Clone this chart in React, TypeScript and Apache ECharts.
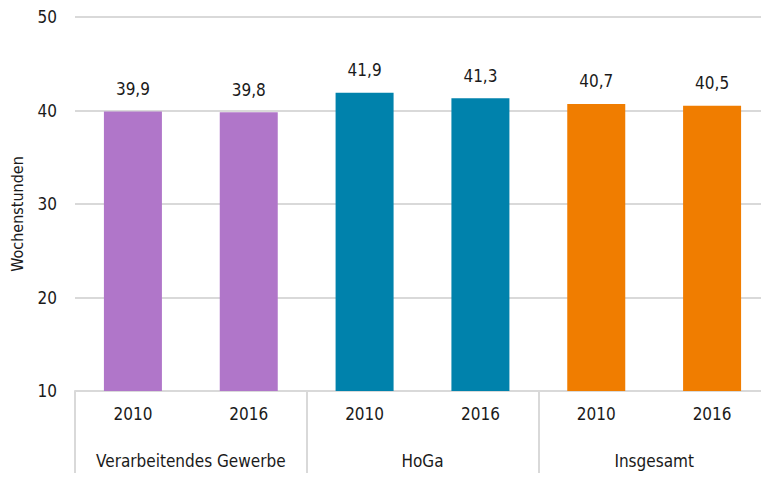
import React, { useEffect, useRef } from "react";
import * as echarts from "echarts";

const years = ["2010", "2016", "2010", "2016", "2010", "2016"];
const groups = ["Verarbeitendes Gewerbe", "HoGa", "Insgesamt"];
const values = [39.9, 39.8, 41.9, 41.3, 40.7, 40.5];
const groupOfBar = [0, 0, 1, 1, 2, 2];
const groupColors = ["#B076C9", "#0082AC", "#F07D00"];
const yTicks = { min: 10, max: 50, interval: 10 };
const yName = "Wochenstunden";

const FONT = "'Liberation Sans Narrow', 'DejaVu Sans Condensed', 'Roboto', sans-serif";
const TEXT = "#1a1a1a";
const GRID = "#d9d9d9";

export default function App() {
  const ref = useRef<HTMLDivElement>(null);
  useEffect(() => {
    if (!ref.current) return;
    const chart = echarts.init(ref.current, undefined, { renderer: "svg" });
    chart.setOption({
      animation: false,
      textStyle: { fontFamily: FONT },
      grid: { left: 75, right: 0, top: 17, bottom: 96, containLabel: false },
      graphic: [
        {
          type: "text",
          x: 17,
          y: 214,
          rotation: Math.PI / 2,
          style: {
            text: yName,
            fill: TEXT,
            fontSize: 16,
            fontFamily: FONT,
            textAlign: "center",
            textVerticalAlign: "middle",
          },
        },
      ],
      xAxis: [
        {
          type: "category",
          data: years,
          position: "bottom",
          axisLine: { show: true, lineStyle: { color: GRID, width: 2 } },
          axisTick: { show: false },
          axisLabel: { color: TEXT, fontSize: 17, fontFamily: FONT, margin: 14, interval: 0 },
          splitLine: { show: false },
        },
        {
          type: "category",
          data: groups,
          position: "bottom",
          gridIndex: 0,
          axisLine: { show: false },
          axisTick: { show: true, interval: 0, length: 82, lineStyle: { color: GRID, width: 2 } },
          axisLabel: { color: TEXT, fontSize: 17, fontFamily: FONT, margin: 61, interval: 0 },
          splitLine: { show: false },
        },
      ],
      yAxis: {
        type: "value",
        min: yTicks.min,
        max: yTicks.max,
        interval: yTicks.interval,
        axisLine: { show: false },
        axisTick: { show: false },
        axisLabel: { color: TEXT, fontSize: 17, fontFamily: FONT, margin: 18 },
        splitLine: { show: true, lineStyle: { color: GRID, width: 2 } },
      },
      series: [
        {
          type: "bar",
          xAxisIndex: 0,
          barWidth: 58,
          data: values.map((v, i) => ({
            value: v,
            itemStyle: { color: groupColors[groupOfBar[i]] },
          })),
          label: {
            show: true,
            position: "top",
            distance: 14,
            color: TEXT,
            fontSize: 17,
            fontFamily: FONT,
            formatter: (p: any) => String(p.value.toFixed(1)).replace(".", ","),
          },
        },
      ],
    });
    return () => chart.dispose();
  }, []);
  return (
    <div
      style={{
        position: "fixed",
        left: 0,
        top: 0,
        width: 761,
        height: 487,
        overflow: "hidden",
        background: "#fff",
      }}
    >
      <div ref={ref} style={{ width: 770, height: 487 }} />
    </div>
  );
}
